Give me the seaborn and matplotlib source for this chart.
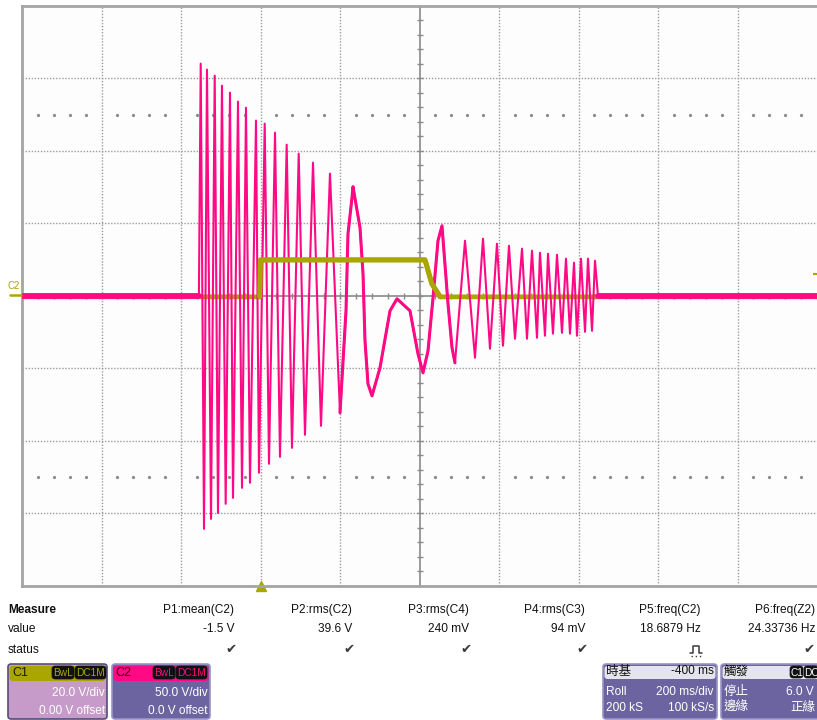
import matplotlib
matplotlib.use("Agg")
import matplotlib.pyplot as plt
import seaborn as sns
import numpy as np
import pandas as pd
from matplotlib.patches import FancyBboxPatch
from matplotlib.lines import Line2D

# ---------------- data ----------------
# C2 (magenta) : time in ms, voltage in V  (50 V/div)
c2_time_ms = [0, 445, 449.6, 457.9, 465.4, 475.5, 484.8, 493.1, 503.1, 512.4, 523.3, 530.8,
              543.4, 553.5, 563.5, 573.6, 588.7, 596.2, 610.6, 621.4, 636.5, 649.0, 665.9,
              679.2, 696.1, 711.9, 732.1, 752.2, 774.8, 800.0, 815.1, 820.1, 830.2, 832.7,
              850.3, 857.9, 862.9, 870.4, 880.5, 900.6, 925.8, 943.4, 976.1, 996.2, 1008.8,
              1021.4, 1034.0, 1046.5, 1056.6, 1071.7, 1081.8, 1089.3, 1114.5, 1139.6, 1159.7,
              1177.3, 1194.9, 1210.0, 1225.1, 1240.2, 1257.9, 1270.4, 1283.0, 1295.6, 1303.1,
              1315.7, 1323.3, 1335.8, 1345.9, 1358.5, 1368.5, 1378.6, 1388.7, 1396.2, 1406.3,
              1416.4, 1423.9, 1434.0, 1441.5, 1449.0, 2000]
c2_volts = [0, 0, 160.2, -160.9, 156.1, -154.0, 151.9, -149.9, 145.0, -143.6, 140.2, -139.5,
            134.0, -132.6, 129.8, -129.1, 120.9, -122.2, 118.8, -116.0, 112.6, -111.2, 104.3,
            -105.0, 98.1, -96.0, 91.9, -89.8, 84.3, -80.8, -10.4, 42.8, 67.7, 75.3,
            47.0, 15.2, -31.1, -60.8, -69.1, -49.7, -10.4, -2.1, -10.4, -40.1, -53.2,
            -38.0, -1.4, 38.0, 48.3, -5.5, -35.9, -46.3, 38.0, -42.8, 39.4,
            -36.6, 35.9, -34.5, 34.5, -29.7, 32.5, -29.7, 31.1, -29.0, 29.7,
            -27.6, 29.0, -26.2, 28.3, -25.6, 25.6, -26.2, 22.8, -27.6, 25.6,
            -24.9, 25.6, -24.2, 24.2, 0, 0]

# C1 (olive) : time in ms, voltage in V  (20 V/div)
c1_time_ms = [0, 598, 600, 1014, 1024, 1031, 1044, 1052, 2000]
c1_volts = [-0.3, -0.3, 9.9, 9.9, 6.0, 3.3, 1.1, -0.3, -0.3]

c1_v_per_div = 20.0
c2_v_per_div = 50.0
ms_per_div = 200
trig_time_ms = 600
trig_level_v = 6.0

meas_names = ["P1:mean(C2)", "P2:rms(C2)", "P3:rms(C4)", "P4:rms(C3)", "P5:freq(C2)", "P6:freq(Z2)"]
meas_values = ["-1.5 V", "39.6 V", "240 mV", "94 mV", "18.6879 Hz", "24.33736 Hz"]
meas_status = ["\u2714", "\u2714", "\u2714", "\u2714", "pulse", "\u2714"]

# ---------------- style ----------------
sns.set_style("white")
plt.rcParams["font.family"] = ["Liberation Sans", "Noto Sans CJK TC", "DejaVu Sans"]

MAG = "#ff0a84"
OLV = "#aaa600"
GRID = "#9c9c9c"

W, H = 817, 720
fig = plt.figure(figsize=(W / 100, H / 100), dpi=100)
fig.patch.set_facecolor("white")
ax = fig.add_axes([22 / W, 1 - 585.5 / H, 795 / W, 579.5 / H])
ax.set_facecolor("#fdfdfd")


def fx(x):
    return x / W


def fy(y):
    return 1 - y / H


# graticule
for k in range(1, 10):
    if k != 5:
        ax.axvline(k * ms_per_div, color=GRID, lw=1.0, ls=(0, (1, 1.2)), zorder=0)
for k in [-3, -2, -1, 1, 2, 3]:
    ax.axhline(k, color=GRID, lw=1.0, ls=(0, (1, 1.2)), zorder=0)
ax.axhline(0, color="#8a8a8a", lw=1.2, zorder=0)
ax.axvline(5 * ms_per_div, color="#8a8a8a", lw=1.2, zorder=0)
xs_minor = np.arange(0, 2001, ms_per_div / 5)
ys_minor = np.arange(-4, 4.001, 0.2)
ax.plot(xs_minor, np.zeros_like(xs_minor), ls="none", marker="|", ms=5, mew=1.0, color="#8a8a8a", zorder=0)
ax.plot(np.full_like(ys_minor, 1000.0), ys_minor, ls="none", marker="_", ms=5, mew=1.0, color="#8a8a8a", zorder=0)
dots_x = np.array([x for x in xs_minor if x % ms_per_div != 0])
for yy in (2.5, -2.5):
    ax.plot(dots_x, np.full_like(dots_x, yy), ls="none", marker="o", ms=1.3, color="#8a8a8a", zorder=0)

# traces
df1 = pd.DataFrame({"t": c1_time_ms, "div": np.array(c1_volts) / c1_v_per_div})
df2 = pd.DataFrame({"t": c2_time_ms, "div": np.array(c2_volts) / c2_v_per_div})

sns.lineplot(data=df1, x="t", y="div", sort=False, estimator=None, color=OLV, lw=3.4, ax=ax, zorder=2)
sns.lineplot(data=df2, x="t", y="div", sort=False, estimator=None, color=MAG, lw=1.5, ax=ax, zorder=3)
# thick flat baseline / slow cycles as drawn by the scope
sns.lineplot(data=df2.iloc[:2], x="t", y="div", sort=False, estimator=None, color=MAG, lw=4.2, ax=ax, zorder=3)
sns.lineplot(data=df2.iloc[-2:], x="t", y="div", sort=False, estimator=None, color=MAG, lw=4.2, ax=ax, zorder=3)
sns.lineplot(data=df2.iloc[29:52], x="t", y="div", sort=False, estimator=None, color=MAG, lw=2.2, ax=ax, zorder=3)
sns.lineplot(data=df1.iloc[1:8], x="t", y="div", sort=False, estimator=None, color=OLV, lw=3.6, ax=ax, zorder=4)

ax.set_xlim(0, 10 * ms_per_div)
ax.set_ylim(-4, 4)
ax.set_xticks([])
ax.set_yticks([])
ax.set_xlabel("")
ax.set_ylabel("")
for s in ["left", "top", "bottom"]:
    ax.spines[s].set_color("#a4a4a4")
    ax.spines[s].set_linewidth(2.0)
ax.spines["right"].set_visible(False)

# trigger level marker (right edge) and trigger position marker (bottom)
ax.plot([2000], [trig_level_v / c1_v_per_div], marker=(2, 0, 90), ms=6, mew=1.5, color=OLV, clip_on=False)
ax.plot([trig_time_ms], [-4], marker="^", ms=7, color=OLV, clip_on=False)

# channel ground marker on left
fig.text(fx(8), fy(286), "C2", color=OLV, fontsize=7, va="center", ha="left")
fig.add_artist(Line2D([fx(10), fx(21)], [fy(295), fy(295)], color=OLV, lw=1.8))

# ---------------- measurement table ----------------
fs = 8.6
fig.text(fx(8), fy(610), "Measure", fontsize=fs, fontweight="bold", va="center", ha="left", color="#111111")
fig.text(fx(8), fy(629), "value", fontsize=fs, va="center", ha="left", color="#111111")
fig.text(fx(8), fy(650), "status", fontsize=fs, va="center", ha="left", color="#111111")
col_right = [234, 352, 469, 585, 701, 815]
for xr, nm, vl, st in zip(col_right, meas_names, meas_values, meas_status):
    fig.text(fx(min(xr, 816)), fy(610), nm, fontsize=fs, va="center", ha="right", color="#111111")
    fig.text(fx(min(xr, 816)), fy(629), vl, fontsize=fs, va="center", ha="right", color="#111111")
    if st == "pulse":
        # pulse-shaped status icon (no installed font has this symbol)
        cx = xr - 5
        px = [cx - 6, cx - 3, cx - 3, cx + 3, cx + 3, cx + 6]
        py = [653, 653, 646, 646, 653, 653]
        fig.add_artist(Line2D([fx(p) for p in px], [fy(p) for p in py], color="#3a3a3a", lw=1.1))
        fig.add_artist(Line2D([fx(cx - 5), fx(cx + 5)], [fy(655.5), fy(655.5)], color="#3a3a3a",
                              lw=1.0, ls=(0, (1, 2))))
    else:
        fig.text(fx(min(xr + 3, 815)), fy(650), st, fontsize=fs + 1, va="center", ha="right",
                 color="#3a3a3a", family=["DejaVu Sans"])


# ---------------- info boxes ----------------
def box(x0, x1, y0, y1, yh, head, body, edge):
    fig.add_artist(FancyBboxPatch((fx(x0), fy(y1)), fx(x1 - x0), (y1 - y0) / H,
                                  boxstyle="round,pad=0,rounding_size=0.004", fc=body, ec=edge, lw=1.2,
                                  transform=fig.transFigure))
    fig.add_artist(FancyBboxPatch((fx(x0 + 1.5), fy(yh)), fx(x1 - x0 - 3), (yh - y0 - 2) / H,
                                  boxstyle="round,pad=0,rounding_size=0.004", fc=head, ec="none",
                                  transform=fig.transFigure))


def badge(x0, x1, y0, y1, txt, tc):
    fig.add_artist(FancyBboxPatch((fx(x0), fy(y1)), fx(x1 - x0), (y1 - y0) / H,
                                  boxstyle="round,pad=0,rounding_size=0.004", fc="#111111", ec="#111111",
                                  lw=0.5, transform=fig.transFigure))
    fig.text(fx((x0 + x1) / 2), fy((y0 + y1) / 2 + 0.5), txt, color=tc, fontsize=7.3, ha="center", va="center")


bfs = 8.6
# C1
box(8, 107, 664, 719, 681, OLV, "#c79bc9", "#50507a")
fig.text(fx(12), fy(672.5), "C1", fontsize=9, color="#1a1a00", va="center", ha="left")
badge(52, 74, 666, 679, "BwL", OLV)
badge(75, 106, 666, 679, "DC1M", OLV)
fig.text(fx(105), fy(693), "20.0 V/div", fontsize=bfs, color="white", ha="right", va="center")
fig.text(fx(105), fy(711), "0.00 V offset", fontsize=bfs, color="white", ha="right", va="center")
# C2
box(112, 210, 664, 719, 681, MAG, "#6c64a0", "#9a94c4")
fig.text(fx(115), fy(672.5), "C2", fontsize=9, color="#2a0014", va="center", ha="left")
badge(153, 175, 666, 679, "BwL", MAG)
badge(176, 207, 666, 679, "DC1M", MAG)
fig.text(fx(208), fy(693), "50.0 V/div", fontsize=bfs, color="white", ha="right", va="center")
fig.text(fx(208), fy(711), "0.0 V offset", fontsize=bfs, color="white", ha="right", va="center")
# Timebase
box(603, 717, 664, 719, 679, "#e4e4ec", "#6c64a0", "#9a94c4")
fig.text(fx(606), fy(671.5), "時基", fontsize=9, color="#111111", va="center", ha="left")
fig.text(fx(714), fy(671.5), "-400 ms", fontsize=bfs, color="#111111", va="center", ha="right")
fig.text(fx(606), fy(692), "Roll", fontsize=bfs, color="white", va="center", ha="left")
fig.text(fx(714), fy(692), "200 ms/div", fontsize=bfs, color="white", va="center", ha="right")
fig.text(fx(606), fy(708), "200 kS", fontsize=bfs, color="white", va="center", ha="left")
fig.text(fx(714), fy(708), "100 kS/s", fontsize=bfs, color="white", va="center", ha="right")
# Trigger
box(721, 822, 664, 719, 679, "#e4e4ec", "#6c64a0", "#9a94c4")
fig.text(fx(724), fy(671.5), "觸發", fontsize=9, color="#111111", va="center", ha="left")
badge(790, 803, 666, 678, "C1", "white")
badge(804, 818, 666, 678, "DC", "white")
fig.text(fx(724), fy(692), "停止", fontsize=9, color="white", va="center", ha="left")
fig.text(fx(814), fy(692), "6.0 V", fontsize=bfs, color="white", va="center", ha="right")
fig.text(fx(724), fy(708), "邊緣", fontsize=9, color="white", va="center", ha="left")
fig.text(fx(815), fy(708), "正緣", fontsize=9, color="white", va="center", ha="right")

fig.savefig("out.png", dpi=100, facecolor="white")
